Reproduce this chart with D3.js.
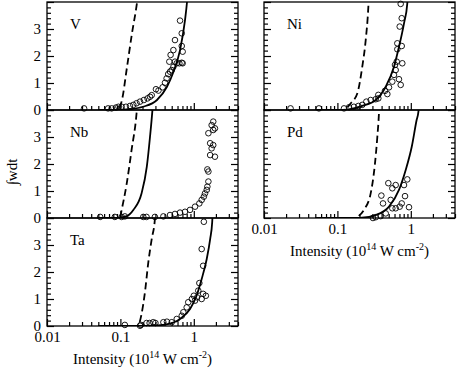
<!DOCTYPE html>
<html lang="en">

<head>
  <meta charset="UTF-8">
  <title>Ionization yield vs intensity</title>
  <style>
    html,
    body {
      margin: 0;
      background: #fff;
    }

    text {
      font-family: 'Liberation Serif', 'Times New Roman', serif;
      fill: #000;
    }
  </style>
  <script src="https://cdn.jsdelivr.net/npm/d3@7"></script>
</head>

<body>
  <script>
    // canvas size
    const width = 457
    const height = 370

    // axis values
    const xDomain = [0.01, 4]
    const yDomain = [0, 4]
    const xMajor = [0.01, 0.1, 1]
    const xTickLabels = ['0.01', '0.1', '1']
    const yMajor = [0, 1, 2, 3, 4]
    const yTickLabels = ['0', '1', '2', '3', '']

    // data [intensity, integral]
    const vDashed = [[0.05, 0], [0.088, 0], [0.094, 0.03], [0.105, 0.37], [0.123, 1.59], [0.144, 2.85], [0.168, 3.96], [0.176, 4.4]]
    const vSolid = [[0.05, 0], [0.1, 0], [0.135, 0.03], [0.203, 0.12], [0.315, 0.37], [0.431, 0.86], [0.521, 1.37], [0.649, 2.22], [0.759, 3.33], [0.808, 4.0], [0.83, 4.4]]
    const vCircles = [[0.032, 0.06], [0.068, 0.06], [0.076, 0.06], [0.087, 0.09], [0.094, 0.12], [0.104, 0.12], [0.119, 0.12],
      [0.135, 0.15], [0.150, 0.19], [0.166, 0.25], [0.185, 0.31], [0.209, 0.37], [0.234, 0.43], [0.253, 0.49], [0.267, 0.55],
      [0.305, 0.77], [0.330, 0.72], [0.376, 0.84], [0.405, 1.01], [0.426, 1.17], [0.448, 1.33], [0.474, 1.42], [0.50, 1.48],
      [0.527, 1.6], [0.464, 1.79], [0.554, 1.79], [0.483, 2.04], [0.527, 2.22], [0.585, 1.73], [0.636, 1.73], [0.685, 1.75],
      [0.705, 1.73], [0.705, 2.16], [0.685, 2.37], [0.554, 2.59], [0.685, 2.84], [0.649, 3.31]]

    const nbDashed = [[0.05, 0], [0.095, 0], [0.099, 0.03], [0.104, 0.3], [0.122, 1.28], [0.142, 2.52], [0.166, 3.88], [0.172, 4.4]]
    const nbSolid = [[0.05, 0], [0.09, 0], [0.122, 0.07], [0.150, 0.3], [0.194, 0.91], [0.229, 1.9], [0.253, 3.0], [0.272, 3.94], [0.28, 4.4]]
    const nbCircles = [[0.053, 0.04], [0.084, 0.04], [0.104, 0.04], [0.115, 0.06], [0.205, 0.04], [0.227, 0.04], [0.295, 0.04],
      [0.385, 0.06], [0.474, 0.11], [0.554, 0.15], [0.649, 0.2], [0.759, 0.23], [0.888, 0.3], [1.04, 0.42], [1.19, 0.54],
      [1.28, 0.67], [1.37, 0.79], [1.42, 0.91], [1.50, 1.04], [1.53, 1.16], [1.58, 1.35], [1.58, 1.72], [1.53, 1.8],
      [1.67, 2.33], [1.75, 2.58], [1.84, 2.7], [1.67, 2.77], [1.94, 2.27], [1.58, 3.14], [1.84, 3.26], [1.75, 3.44],
      [1.94, 3.32], [1.84, 3.57]]

    const taDashed = [[0.05, 0], [0.17, 0], [0.176, 0.03], [0.194, 0.44], [0.216, 1.25], [0.24, 2.36], [0.267, 3.22], [0.295, 3.96], [0.30, 4.4]]
    const taSolid = [[0.05, 0], [0.2, 0], [0.3, 0.02], [0.426, 0.06], [0.649, 0.26], [0.888, 0.63], [1.09, 1.12], [1.28, 1.74], [1.50, 2.48], [1.67, 3.22], [1.78, 3.84], [1.82, 4.4]]
    const taCircles = [[0.115, 0.04], [0.185, 0.01], [0.19, 0.04], [0.227, 0.11], [0.25, 0.11], [0.28, 0.14], [0.30, 0.11],
      [0.385, 0.14], [0.43, 0.16], [0.50, 0.14], [0.585, 0.26], [0.685, 0.38], [0.72, 0.51], [0.80, 0.69], [0.84, 0.88],
      [0.94, 1.0], [1.0, 1.12], [1.04, 0.94], [1.11, 1.06], [1.15, 1.31], [1.19, 1.59], [1.28, 1.0], [1.34, 1.19],
      [1.46, 1.12], [1.34, 2.23], [1.28, 2.85], [1.37, 3.86]]

    const niDashed = [[0.05, 0], [0.125, 0], [0.137, 0.1], [0.152, 0.25], [0.187, 0.62], [0.218, 1.6], [0.243, 2.59], [0.264, 3.83], [0.27, 4.4]]
    const niSolid = [[0.05, 0], [0.117, 0], [0.218, 0.15], [0.333, 0.37], [0.455, 0.86], [0.590, 1.6], [0.690, 2.34], [0.808, 3.21], [0.896, 3.95], [0.92, 4.4]]
    const niCircles = [[0.023, 0.06], [0.056, 0.06], [0.123, 0.06], [0.144, 0.1], [0.168, 0.12], [0.193, 0.15], [0.218, 0.19],
      [0.248, 0.31], [0.284, 0.37], [0.333, 0.4], [0.361, 0.43], [0.361, 0.56], [0.445, 0.71], [0.479, 0.59], [0.505, 0.84],
      [0.560, 1.05], [0.590, 1.3], [0.622, 1.48], [0.609, 1.67], [0.643, 1.79], [0.766, 1.73], [0.690, 1.14], [0.728, 0.93],
      [0.655, 2.47], [0.752, 2.37], [0.655, 2.25], [0.706, 3.09], [0.752, 3.4], [0.728, 3.93]]

    const pdDashed = [[0.05, 0], [0.17, 0], [0.178, 0.02], [0.230, 0.3], [0.284, 0.91], [0.325, 2.02], [0.350, 3.01], [0.369, 3.94], [0.375, 4.4]]
    const pdSolid = [[0.05, 0], [0.2, 0], [0.333, 0.11], [0.505, 0.42], [0.690, 1.04], [0.852, 1.78], [1.03, 2.64], [1.20, 3.63], [1.27, 3.94], [1.3, 4.4]]
    const pdCircles = [[0.305, 0.0], [0.333, 0.03], [0.389, 0.07], [0.455, 0.17], [0.418, 0.54], [0.397, 0.83], [0.494, 1.29],
      [0.560, 1.1], [0.622, 1.22], [0.532, 0.67], [0.560, 0.36], [0.622, 0.36], [0.706, 0.42], [0.752, 0.54], [0.834, 0.81],
      [0.808, 1.22], [0.896, 1.43], [0.945, 0.4]]

    const panels = [
      { name: 'V', col: 0, row: 0, dashed: vDashed, solid: vSolid, circles: vCircles },
      { name: 'Nb', col: 0, row: 1, dashed: nbDashed, solid: nbSolid, circles: nbCircles },
      { name: 'Ta', col: 0, row: 2, dashed: taDashed, solid: taSolid, circles: taCircles, bottom: true },
      { name: 'Ni', col: 1, row: 0, dashed: niDashed, solid: niSolid, circles: niCircles },
      { name: 'Pd', col: 1, row: 1, dashed: pdDashed, solid: pdSolid, circles: pdCircles, bottom: true }
    ]

    // layout
    const colX = [47, 264]
    const pw = 191
    const ph = 108
    const topY = 2

    // minor ticks
    const xMinor = []
    xMajor.forEach(d => d3.range(2, 10).forEach(k => { if (d * k <= xDomain[1]) xMinor.push(d * k) }))
    const yMinor = d3.range(0, 4.01, 0.2).filter(d => Math.abs(d - Math.round(d)) > 0.01)

    const svg = d3.select('body').append('svg')
      .attr('width', width)
      .attr('height', height)

    const xScale = d3.scaleLog().domain(xDomain).range([0, pw])
    const yScale = d3.scaleLinear().domain(yDomain).range([ph, 0])

    const line = d3.line()
      .x(d => xScale(d[0]))
      .y(d => yScale(d[1]))
      .curve(d3.curveMonotoneX)

    // clip
    svg.append('defs').append('clipPath').attr('id', 'clip')
      .append('rect').attr('width', pw).attr('height', ph)

    panels.forEach(p => {
      const g = svg.append('g')
        .attr('transform', `translate(${colX[p.col]}, ${topY + p.row * ph})`)

      // curves
      g.append('path')
        .datum(p.dashed)
        .attr('clip-path', 'url(#clip)')
        .attr('d', line)
        .attr('fill', 'none')
        .attr('stroke', '#000')
        .attr('stroke-width', 1.8)
        .attr('stroke-dasharray', '7,4')

      g.append('path')
        .datum(p.solid)
        .attr('clip-path', 'url(#clip)')
        .attr('d', line)
        .attr('fill', 'none')
        .attr('stroke', '#000')
        .attr('stroke-width', 1.8)

      g.selectAll('.pt')
        .data(p.circles)
        .enter()
        .append('circle')
        .attr('class', 'pt')
        .attr('cx', d => xScale(d[0]))
        .attr('cy', d => yScale(d[1]))
        .attr('r', 2.8)
        .attr('fill', 'none')
        .attr('stroke', '#000')
        .attr('stroke-width', 0.9)

      // y axes, ticks pointing in
      const yLeft = d3.axisLeft(yScale).tickValues(yMajor).tickSize(-7).tickPadding(6).tickSizeOuter(0)
        .tickFormat((d, i) => p.col === 0 ? yTickLabels[i] : '')
      const yRight = d3.axisRight(yScale).tickValues(yMajor).tickSize(-7).tickSizeOuter(0).tickFormat('')
      const yLeftMinor = d3.axisLeft(yScale).tickValues(yMinor).tickSize(-4).tickSizeOuter(0).tickFormat('')
      const yRightMinor = d3.axisRight(yScale).tickValues(yMinor).tickSize(-4).tickSizeOuter(0).tickFormat('')

      g.append('g').call(yLeft)
      g.append('g').call(yLeftMinor)
      g.append('g').attr('transform', `translate(${pw}, 0)`).call(yRight)
      g.append('g').attr('transform', `translate(${pw}, 0)`).call(yRightMinor)

      // x axis
      const xAxis = d3.axisBottom(xScale).tickValues(xMajor).tickSize(-7).tickPadding(5).tickSizeOuter(0)
        .tickFormat((d, i) => p.bottom ? xTickLabels[i] : '')
      const xAxisMinor = d3.axisBottom(xScale).tickValues(xMinor).tickSize(-4).tickSizeOuter(0).tickFormat('')
      g.append('g').attr('transform', `translate(0, ${ph})`).call(xAxis)
      g.append('g').attr('transform', `translate(0, ${ph})`).call(xAxisMinor)

      g.selectAll('.domain').remove()
      g.selectAll('.tick line').attr('stroke', '#000').attr('stroke-width', 1.2)
      g.selectAll('.tick text')
        .style('font-family', "'Liberation Serif', serif")
        .style('font-size', '15px')
        .attr('fill', '#000')

      // frame
      g.append('rect')
        .attr('width', pw)
        .attr('height', ph)
        .attr('fill', 'none')
        .attr('stroke', '#000')
        .attr('stroke-width', 1.3)

      // panel label
      g.append('text')
        .attr('x', 23)
        .attr('y', 27)
        .style('font-size', '15px')
        .text(p.name)

      // x title
      if (p.bottom) {
        const t = g.append('text')
          .attr('x', pw / 2)
          .attr('y', ph + 38)
          .attr('text-anchor', 'middle')
          .style('font-size', '15px')
        t.append('tspan').text('Intensity (10')
        t.append('tspan').attr('dy', -6).style('font-size', '10px').text('14')
        t.append('tspan').attr('dy', 6).text(' W cm')
        t.append('tspan').attr('dy', -6).style('font-size', '10px').text('-2')
        t.append('tspan').attr('dy', 6).text(')')
      }
    })

    // y title
    svg.append('text')
      .attr('transform', 'translate(17, 172) rotate(-90)')
      .attr('text-anchor', 'middle')
      .style('font-size', '15px')
      .text('∫wdt')
  </script>
</body>

</html>
